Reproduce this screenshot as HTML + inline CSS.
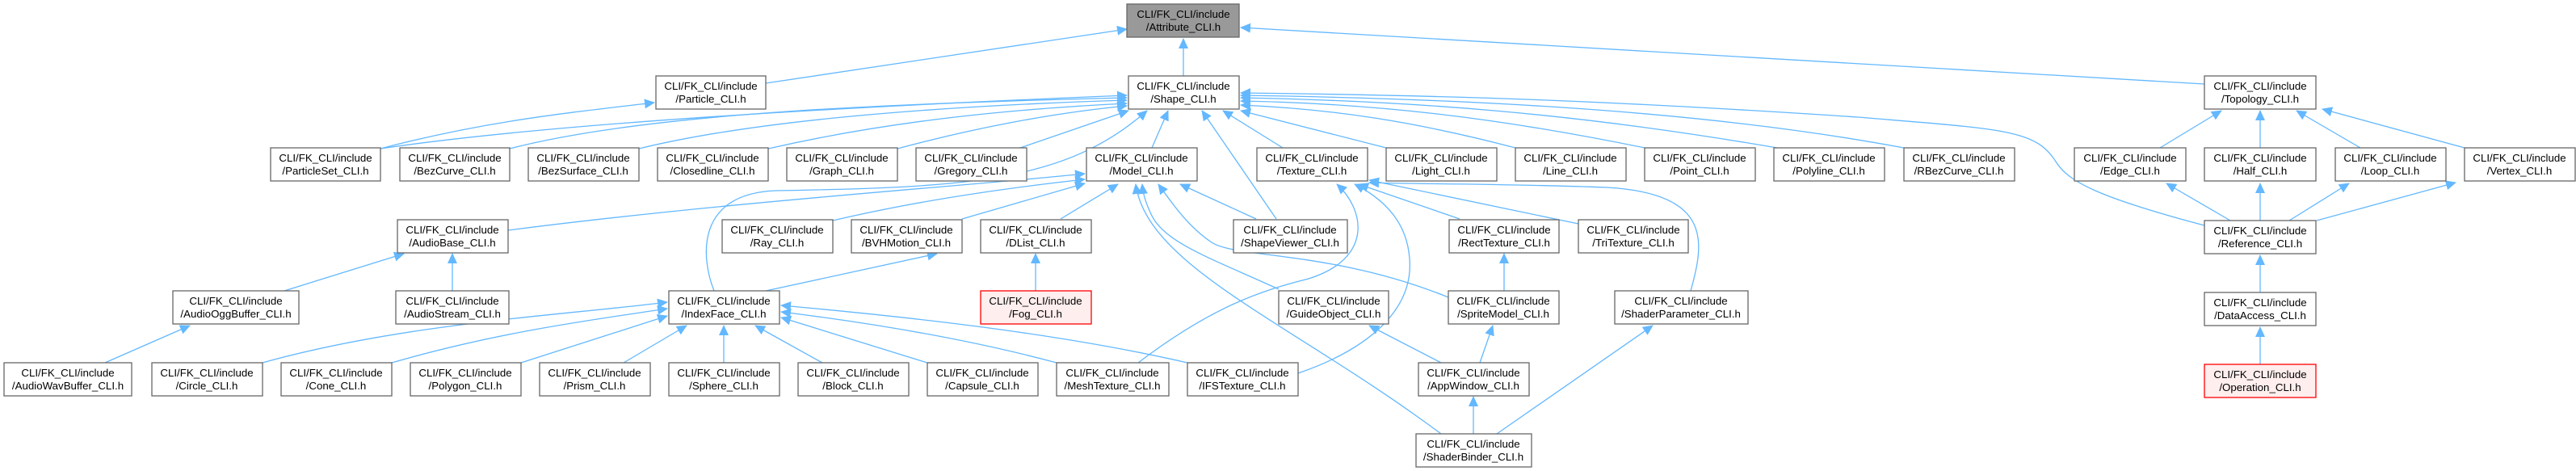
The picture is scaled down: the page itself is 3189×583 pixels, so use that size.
<!DOCTYPE html>
<html><head><meta charset="utf-8"><style>
html,body{margin:0;padding:0;background:#fff}
svg{display:block}
text{font-family:"Liberation Sans",Helvetica,Arial,sans-serif;font-size:13.3px;fill:#000;text-anchor:middle}
.n{fill:#fff;stroke:#666;stroke-width:1.3}
.g{fill:#999;stroke:#666;stroke-width:1.3}
.r{fill:#fee;stroke:#f00;stroke-width:1.3}
.e{fill:none;stroke:#63b8ff;stroke-width:1.3}
</style></head><body>
<svg width="3189" height="583" viewBox="0 0 3189 583" xmlns="http://www.w3.org/2000/svg">
<defs><marker id="a" markerUnits="userSpaceOnUse" markerWidth="14" markerHeight="12" refX="12" refY="6" orient="auto"><path d="M0,0 L13,6 L0,12 z" fill="#63b8ff"/></marker></defs>
<g class="edges">
<path class="e" marker-end="url(#a)" d="M948,103 L1395,36"/>
<path class="e" marker-end="url(#a)" d="M1465,94 L1465,48"/>
<path class="e" marker-end="url(#a)" d="M2729,104 L1536,34"/>
<path class="e" marker-end="url(#a)" d="M471,184 C600,150 700,140 810,127"/>
<path class="e" marker-end="url(#a)" d="M471,184 C700,150 1100,130 1395,118"/>
<path class="e" marker-end="url(#a)" d="M631,184 C800,140 1100,128 1395,121"/>
<path class="e" marker-end="url(#a)" d="M791,184 C950,145 1200,130 1395,124"/>
<path class="e" marker-end="url(#a)" d="M951,184 C1100,150 1250,135 1395,128"/>
<path class="e" marker-end="url(#a)" d="M1111,184 C1200,160 1300,140 1395,131"/>
<path class="e" marker-end="url(#a)" d="M1263,183 L1397,137"/>
<path class="e" marker-end="url(#a)" d="M1426,183 L1446,137"/>
<path class="e" marker-end="url(#a)" d="M1588,183 L1514,137"/>
<path class="e" marker-end="url(#a)" d="M1716,183 L1536,137"/>
<path class="e" marker-end="url(#a)" d="M1876,183 C1750,150 1650,135 1536,130"/>
<path class="e" marker-end="url(#a)" d="M2036,183 C1850,145 1700,128 1536,125"/>
<path class="e" marker-end="url(#a)" d="M2200,183 C1950,140 1750,125 1536,121"/>
<path class="e" marker-end="url(#a)" d="M2357,183 C2100,135 1800,122 1536,118"/>
<path class="e" marker-end="url(#a)" d="M2729,279 C2600,245 2560,225 2545,200 C2520,160 2480,160 2300,145 C2000,125 1800,118 1536,115"/>
<path class="e" marker-end="url(#a)" d="M1580,271 L1488,137"/>
<path class="e" marker-end="url(#a)" d="M884,360 C868,320 860,240 960,236 C1200,232 1320,225 1420,137"/>
<path class="e" marker-end="url(#a)" d="M629,285 C900,250 1200,230 1343,215"/>
<path class="e" marker-end="url(#a)" d="M1031,273 C1150,245 1270,230 1343,222"/>
<path class="e" marker-end="url(#a)" d="M1191,271 L1343,227"/>
<path class="e" marker-end="url(#a)" d="M1313,271 L1384,228"/>
<path class="e" marker-end="url(#a)" d="M1555,271 L1461,228"/>
<path class="e" marker-end="url(#a)" d="M1583,358 C1500,320 1440,300 1425,265 C1418,250 1415,240 1414,228"/>
<path class="e" marker-end="url(#a)" d="M1793,368 C1650,310 1530,320 1500,300 C1470,280 1450,250 1434,228"/>
<path class="e" marker-end="url(#a)" d="M1784,537 C1600,400 1420,330 1406,228"/>
<path class="e" marker-end="url(#a)" d="M1807,271 L1682,228"/>
<path class="e" marker-end="url(#a)" d="M1954,277 L1695,223"/>
<path class="e" marker-end="url(#a)" d="M1409,449 C1500,380 1560,360 1620,345 C1700,320 1690,260 1655,228"/>
<path class="e" marker-end="url(#a)" d="M1607,462 C1700,430 1750,380 1745,320 C1742,280 1720,250 1677,228"/>
<path class="e" marker-end="url(#a)" d="M2093,360 C2110,300 2120,240 1990,232 C1850,227 1750,228 1695,226"/>
<path class="e" marker-end="url(#a)" d="M325,449 C500,400 700,390 826,374"/>
<path class="e" marker-end="url(#a)" d="M485,449 C620,410 740,395 826,382"/>
<path class="e" marker-end="url(#a)" d="M645,449 L826,391"/>
<path class="e" marker-end="url(#a)" d="M772,449 L850,403"/>
<path class="e" marker-end="url(#a)" d="M896,449 L896,403"/>
<path class="e" marker-end="url(#a)" d="M1018,449 L935,403"/>
<path class="e" marker-end="url(#a)" d="M1148,449 L967,393"/>
<path class="e" marker-end="url(#a)" d="M1308,449 C1200,420 1080,400 967,386"/>
<path class="e" marker-end="url(#a)" d="M1470,449 C1300,410 1100,390 967,378"/>
<path class="e" marker-end="url(#a)" d="M948,360 L1160,314"/>
<path class="e" marker-end="url(#a)" d="M352,360 L500,314"/>
<path class="e" marker-end="url(#a)" d="M560,360 L560,314"/>
<path class="e" marker-end="url(#a)" d="M130,449 L235,403"/>
<path class="e" marker-end="url(#a)" d="M1282,360 L1282,314"/>
<path class="e" marker-end="url(#a)" d="M1862,360 L1862,314"/>
<path class="e" marker-end="url(#a)" d="M1784,449 L1695,403"/>
<path class="e" marker-end="url(#a)" d="M1832,449 L1848,403"/>
<path class="e" marker-end="url(#a)" d="M1824,537 L1824,491"/>
<path class="e" marker-end="url(#a)" d="M1853,537 L2046,403"/>
<path class="e" marker-end="url(#a)" d="M2674,183 L2750,137"/>
<path class="e" marker-end="url(#a)" d="M2798,183 L2798,137"/>
<path class="e" marker-end="url(#a)" d="M2922,183 L2843,137"/>
<path class="e" marker-end="url(#a)" d="M3051,183 L2875,135"/>
<path class="e" marker-end="url(#a)" d="M2761,273 L2682,227"/>
<path class="e" marker-end="url(#a)" d="M2798,273 L2798,227"/>
<path class="e" marker-end="url(#a)" d="M2834,273 L2908,227"/>
<path class="e" marker-end="url(#a)" d="M2868,273 L3040,226"/>
<path class="e" marker-end="url(#a)" d="M2798,362 L2798,316"/>
<path class="e" marker-end="url(#a)" d="M2798,451 L2798,405"/>
</g>
<g>
<rect class="g" x="1395" y="5" width="139" height="41"/><text x="1465" y="22">CLI/FK_CLI/include</text><text x="1465" y="38">/Attribute_CLI.h</text>

<rect class="n" x="812" y="94" width="136" height="41"/><text x="880" y="111">CLI/FK_CLI/include</text><text x="880" y="127">/Particle_CLI.h</text>
<rect class="n" x="1397" y="94" width="137" height="41"/><text x="1465" y="111">CLI/FK_CLI/include</text><text x="1465" y="127">/Shape_CLI.h</text>
<rect class="n" x="2729" y="94" width="138" height="41"/><text x="2798" y="111">CLI/FK_CLI/include</text><text x="2798" y="127">/Topology_CLI.h</text>

<rect class="n" x="335" y="183" width="136" height="41"/><text x="403" y="200">CLI/FK_CLI/include</text><text x="403" y="216">/ParticleSet_CLI.h</text>
<rect class="n" x="495" y="183" width="136" height="41"/><text x="563" y="200">CLI/FK_CLI/include</text><text x="563" y="216">/BezCurve_CLI.h</text>
<rect class="n" x="654" y="183" width="137" height="41"/><text x="722" y="200">CLI/FK_CLI/include</text><text x="722" y="216">/BezSurface_CLI.h</text>
<rect class="n" x="814" y="183" width="137" height="41"/><text x="882" y="200">CLI/FK_CLI/include</text><text x="882" y="216">/Closedline_CLI.h</text>
<rect class="n" x="974" y="183" width="137" height="41"/><text x="1042" y="200">CLI/FK_CLI/include</text><text x="1042" y="216">/Graph_CLI.h</text>
<rect class="n" x="1134" y="183" width="137" height="41"/><text x="1202" y="200">CLI/FK_CLI/include</text><text x="1202" y="216">/Gregory_CLI.h</text>
<rect class="n" x="1345" y="183" width="137" height="41"/><text x="1413" y="200">CLI/FK_CLI/include</text><text x="1413" y="216">/Model_CLI.h</text>
<rect class="n" x="1556" y="183" width="137" height="41"/><text x="1624" y="200">CLI/FK_CLI/include</text><text x="1624" y="216">/Texture_CLI.h</text>
<rect class="n" x="1716" y="183" width="137" height="41"/><text x="1784" y="200">CLI/FK_CLI/include</text><text x="1784" y="216">/Light_CLI.h</text>
<rect class="n" x="1876" y="183" width="137" height="41"/><text x="1944" y="200">CLI/FK_CLI/include</text><text x="1944" y="216">/Line_CLI.h</text>
<rect class="n" x="2036" y="183" width="137" height="41"/><text x="2104" y="200">CLI/FK_CLI/include</text><text x="2104" y="216">/Point_CLI.h</text>
<rect class="n" x="2196" y="183" width="137" height="41"/><text x="2264" y="200">CLI/FK_CLI/include</text><text x="2264" y="216">/Polyline_CLI.h</text>
<rect class="n" x="2357" y="183" width="137" height="41"/><text x="2425" y="200">CLI/FK_CLI/include</text><text x="2425" y="216">/RBezCurve_CLI.h</text>
<rect class="n" x="2568" y="183" width="138" height="41"/><text x="2637" y="200">CLI/FK_CLI/include</text><text x="2637" y="216">/Edge_CLI.h</text>
<rect class="n" x="2729" y="183" width="138" height="41"/><text x="2798" y="200">CLI/FK_CLI/include</text><text x="2798" y="216">/Half_CLI.h</text>
<rect class="n" x="2891" y="183" width="137" height="41"/><text x="2959" y="200">CLI/FK_CLI/include</text><text x="2959" y="216">/Loop_CLI.h</text>
<rect class="n" x="3051" y="183" width="137" height="41"/><text x="3119" y="200">CLI/FK_CLI/include</text><text x="3119" y="216">/Vertex_CLI.h</text>

<rect class="n" x="492" y="272" width="137" height="41"/><text x="560" y="289">CLI/FK_CLI/include</text><text x="560" y="305">/AudioBase_CLI.h</text>
<rect class="n" x="894" y="272" width="137" height="41"/><text x="962" y="289">CLI/FK_CLI/include</text><text x="962" y="305">/Ray_CLI.h</text>
<rect class="n" x="1054" y="272" width="137" height="41"/><text x="1122" y="289">CLI/FK_CLI/include</text><text x="1122" y="305">/BVHMotion_CLI.h</text>
<rect class="n" x="1214" y="272" width="137" height="41"/><text x="1282" y="289">CLI/FK_CLI/include</text><text x="1282" y="305">/DList_CLI.h</text>
<rect class="n" x="1527" y="272" width="141" height="41"/><text x="1597" y="289">CLI/FK_CLI/include</text><text x="1597" y="305">/ShapeViewer_CLI.h</text>
<rect class="n" x="1794" y="272" width="136" height="41"/><text x="1862" y="289">CLI/FK_CLI/include</text><text x="1862" y="305">/RectTexture_CLI.h</text>
<rect class="n" x="1954" y="272" width="136" height="41"/><text x="2022" y="289">CLI/FK_CLI/include</text><text x="2022" y="305">/TriTexture_CLI.h</text>
<rect class="n" x="2729" y="273" width="138" height="41"/><text x="2798" y="290">CLI/FK_CLI/include</text><text x="2798" y="306">/Reference_CLI.h</text>

<rect class="n" x="214" y="360" width="156" height="41"/><text x="292" y="377">CLI/FK_CLI/include</text><text x="292" y="393">/AudioOggBuffer_CLI.h</text>
<rect class="n" x="490" y="360" width="140" height="41"/><text x="560" y="377">CLI/FK_CLI/include</text><text x="560" y="393">/AudioStream_CLI.h</text>
<rect class="n" x="828" y="360" width="137" height="41"/><text x="896" y="377">CLI/FK_CLI/include</text><text x="896" y="393">/IndexFace_CLI.h</text>
<rect class="r" x="1214" y="360" width="137" height="41"/><text x="1282" y="377">CLI/FK_CLI/include</text><text x="1282" y="393">/Fog_CLI.h</text>
<rect class="n" x="1583" y="360" width="136" height="41"/><text x="1651" y="377">CLI/FK_CLI/include</text><text x="1651" y="393">/GuideObject_CLI.h</text>
<rect class="n" x="1793" y="360" width="137" height="41"/><text x="1861" y="377">CLI/FK_CLI/include</text><text x="1861" y="393">/SpriteModel_CLI.h</text>
<rect class="n" x="1999" y="360" width="165" height="41"/><text x="2081" y="377">CLI/FK_CLI/include</text><text x="2081" y="393">/ShaderParameter_CLI.h</text>
<rect class="n" x="2729" y="362" width="138" height="41"/><text x="2798" y="379">CLI/FK_CLI/include</text><text x="2798" y="395">/DataAccess_CLI.h</text>

<rect class="n" x="5" y="449" width="158" height="41"/><text x="84" y="466">CLI/FK_CLI/include</text><text x="84" y="482">/AudioWavBuffer_CLI.h</text>
<rect class="n" x="188" y="449" width="137" height="41"/><text x="256" y="466">CLI/FK_CLI/include</text><text x="256" y="482">/Circle_CLI.h</text>
<rect class="n" x="348" y="449" width="137" height="41"/><text x="416" y="466">CLI/FK_CLI/include</text><text x="416" y="482">/Cone_CLI.h</text>
<rect class="n" x="508" y="449" width="137" height="41"/><text x="576" y="466">CLI/FK_CLI/include</text><text x="576" y="482">/Polygon_CLI.h</text>
<rect class="n" x="668" y="449" width="137" height="41"/><text x="736" y="466">CLI/FK_CLI/include</text><text x="736" y="482">/Prism_CLI.h</text>
<rect class="n" x="828" y="449" width="137" height="41"/><text x="896" y="466">CLI/FK_CLI/include</text><text x="896" y="482">/Sphere_CLI.h</text>
<rect class="n" x="988" y="449" width="137" height="41"/><text x="1056" y="466">CLI/FK_CLI/include</text><text x="1056" y="482">/Block_CLI.h</text>
<rect class="n" x="1148" y="449" width="137" height="41"/><text x="1216" y="466">CLI/FK_CLI/include</text><text x="1216" y="482">/Capsule_CLI.h</text>
<rect class="n" x="1308" y="449" width="139" height="41"/><text x="1377" y="466">CLI/FK_CLI/include</text><text x="1377" y="482">/MeshTexture_CLI.h</text>
<rect class="n" x="1470" y="449" width="137" height="41"/><text x="1538" y="466">CLI/FK_CLI/include</text><text x="1538" y="482">/IFSTexture_CLI.h</text>
<rect class="n" x="1756" y="449" width="137" height="41"/><text x="1824" y="466">CLI/FK_CLI/include</text><text x="1824" y="482">/AppWindow_CLI.h</text>
<rect class="r" x="2729" y="451" width="138" height="41"/><text x="2798" y="468">CLI/FK_CLI/include</text><text x="2798" y="484">/Operation_CLI.h</text>

<rect class="n" x="1753" y="537" width="143" height="41"/><text x="1824" y="554">CLI/FK_CLI/include</text><text x="1824" y="570">/ShaderBinder_CLI.h</text>
</g>
</svg>
</body></html>
